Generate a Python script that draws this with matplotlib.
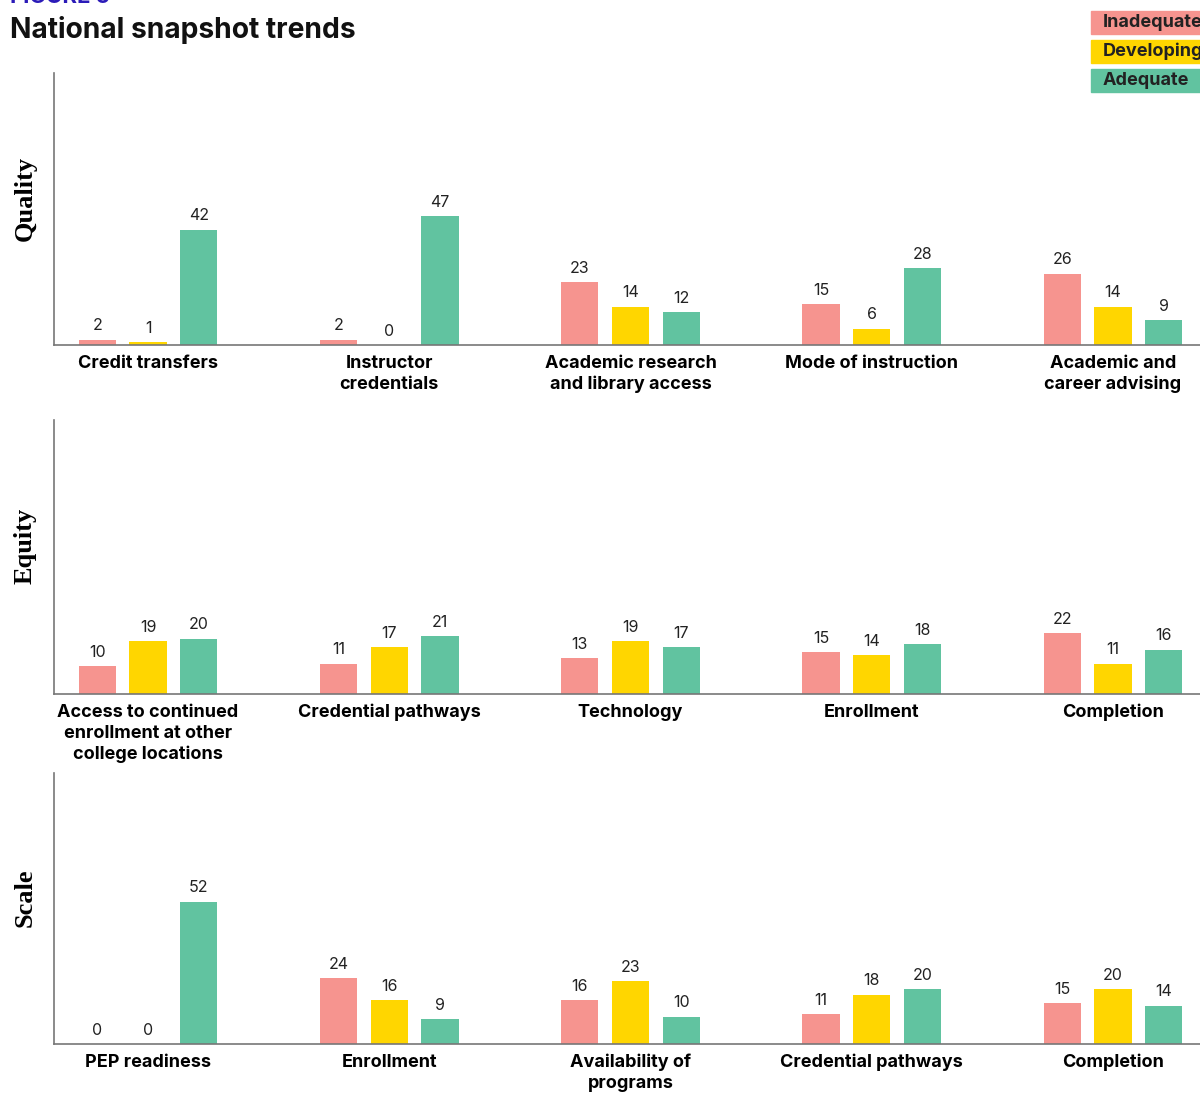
import matplotlib.pyplot as plt
import numpy as np
from matplotlib.patches import Rectangle

plt.rcParams['font.family'] = ['Inter', 'DejaVu Sans']

series = ['Inadequate', 'Developing', 'Adequate']
colors = ['#f6948f', '#ffd600', '#61c3a0']

panels = ['Quality', 'Equity', 'Scale']
categories = [
    ['Credit transfers', 'Instructor\ncredentials', 'Academic research\nand library access',
     'Mode of instruction', 'Academic and\ncareer advising'],
    ['Access to continued\nenrollment at other\ncollege locations', 'Credential pathways',
     'Technology', 'Enrollment', 'Completion'],
    ['PEP readiness', 'Enrollment', 'Availability of\nprograms', 'Credential pathways', 'Completion'],
]
inadequate = [[2, 2, 23, 15, 26], [10, 11, 13, 15, 22], [0, 24, 16, 11, 15]]
developing = [[1, 0, 14, 6, 14], [19, 17, 19, 14, 11], [0, 16, 23, 18, 20]]
adequate = [[42, 47, 12, 28, 9], [20, 21, 17, 18, 16], [52, 9, 10, 20, 14]]

W, H = 1200, 1096
fig = plt.figure(figsize=(W / 100, H / 100), dpi=100)

# axes boxes in pixels: top, bottom
boxes = [(73, 345), (420, 694), (773, 1044)]
left_px, right_px = 54, 1207
width = 0.154
offset = 0.21

for i, name in enumerate(panels):
    top, bot = boxes[i]
    ax = fig.add_axes([left_px / W, 1 - bot / H, (right_px - left_px) / W, (bot - top) / H])
    x = np.arange(5)
    vals = [inadequate[i], developing[i], adequate[i]]
    for k in range(3):
        bars = ax.bar(x + (k - 1) * offset, vals[k], width, color=colors[k], zorder=2)
        for b, v in zip(bars, vals[k]):
            ax.annotate(str(v), (b.get_x() + b.get_width() / 2, v), xytext=(0, 4.5),
                        textcoords='offset points', ha='center', va='bottom',
                        fontsize=11.5, color='#222222')
    ax.set_xlim(-0.39, 4.39)
    ax.set_ylim(0, 99)
    ax.set_yticks([])
    ax.set_xticks(x)
    ax.set_xticklabels(categories[i], fontsize=13, fontweight='bold', linespacing=1.3)
    ax.tick_params(axis='x', length=0, pad=7)
    for s in ['top', 'right']:
        ax.spines[s].set_visible(False)
    for s in ['left', 'bottom']:
        ax.spines[s].set_color('#777777')
        ax.spines[s].set_linewidth(1.2)
    ax.set_facecolor('none')
    fig.text(25 / W, 1 - (top + bot - 22) / 2 / H, name, rotation=90, ha='center', va='center',
             family='Liberation Serif', fontweight='bold', fontsize=19)

fig.text(10 / W, 1 - 3 / H, 'FIGURE 5', color='#2b1bb8', fontsize=16, fontweight='bold',
         ha='left', va='baseline')
fig.text(10 / W, 1 - 30 / H, 'National snapshot trends', fontsize=20.3, fontweight='bold',
         ha='left', va='center', color='#111111')

# legend boxes
for k, lab in enumerate(series):
    y0 = 11 + k * 29
    fig.patches.append(Rectangle((1091 / W, 1 - (y0 + 23) / H), 120 / W, 23 / H,
                                 transform=fig.transFigure, color=colors[k], zorder=0))
    fig.text(1103 / W, 1 - (y0 + 11.5) / H, lab, fontsize=13, fontweight='bold',
             color='#222222', ha='left', va='center')

fig.savefig('out.png', dpi=100)
